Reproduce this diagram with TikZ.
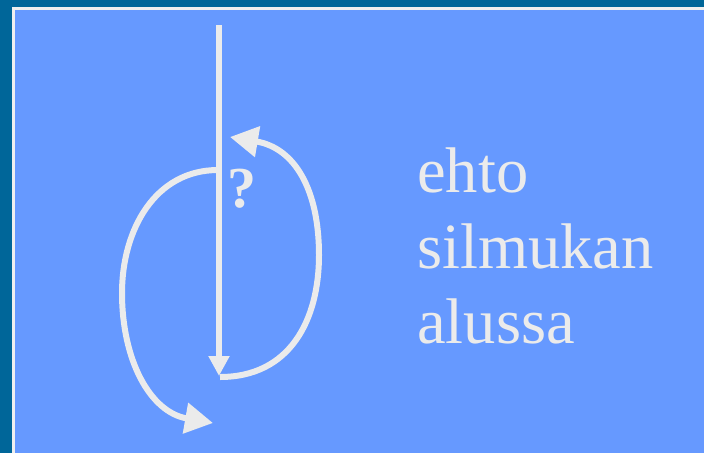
\documentclass[tikz,border=0pt]{standalone}
\usepackage{fontspec}
\setmainfont{Liberation Serif}
\usetikzlibrary{arrows.meta}
\definecolor{frameblue}{HTML}{006699}
\definecolor{bgblue}{HTML}{6699FF}
\definecolor{linegray}{HTML}{EBEBEB}
\tikzset{
  flow/.style={draw=linegray, line width=6pt},
  bighead/.style={-{Triangle[length=28pt,width=30pt]}},
  smallhead/.style={-{Triangle[length=20pt,width=20pt]}},
  label/.style={text=linegray, inner sep=0pt},
  bigtext/.style={label, anchor=base west, font=\fontsize{64.5}{75.5}\selectfont}
}
\begin{document}
\begin{tikzpicture}[x=1pt,y=-1pt]
\useasboundingbox (0,0) rectangle (704,453);
\fill[frameblue] (0,0) rectangle (704,453);
\fill[linegray!80!white] (12,7) rectangle (704,453);
\fill[bgblue] (15,10) rectangle (704,453);
% coordinates
\coordinate (top) at (219,25);
\coordinate (bottom) at (219,376);
\coordinate (lstart) at (218,170);
\coordinate (lleft) at (122,293);
\coordinate (lend) at (213,423);
\coordinate (rstart) at (220,377);
\coordinate (rright) at (319,255);
\coordinate (rend) at (230,137);
% main vertical arrow
\draw[flow,smallhead] (top) -- (bottom);
% left loop
\draw[flow,bighead] (lstart) .. controls (155,170) and (122,230) .. (lleft)
  .. controls (122,360) and (150,412) .. (lend);
% right loop
\draw[flow,bighead] (rstart) .. controls (290,377) and (319,320) .. (rright)
  .. controls (319,190) and (295,148) .. (rend);
\node[label, anchor=base, font=\bfseries\fontsize{58}{60}\selectfont] (q) at (242,207) {?};
\node[bigtext] (t1) at (417,192) {ehto};
\node[bigtext] (t2) at (417,268) {silmukan};
\node[bigtext] (t3) at (417,343) {alussa};
\end{tikzpicture}
\end{document}
